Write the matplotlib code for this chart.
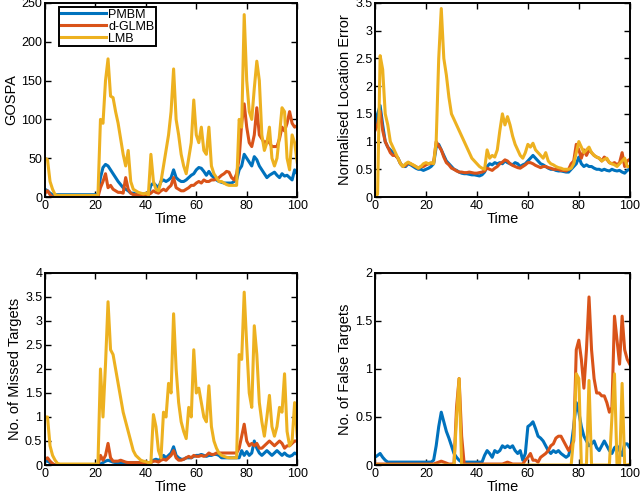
import matplotlib
matplotlib.use("Agg")
import matplotlib.pyplot as plt
from matplotlib.ticker import FormatStrFormatter

# time axis
time = list(range(101))

# GOSPA
gospa_pmbm = [10, 8, 5, 3, 3, 3, 3, 3, 3, 3,
              3, 3, 3, 3, 3, 3, 3, 3, 3, 3,
              3, 3, 25, 38, 42, 40, 35, 30, 25, 20,
              16, 12, 10, 8, 5, 5, 4, 4, 4, 4,
              4, 4, 15, 18, 15, 12, 20, 22, 20, 22,
              25, 35, 25, 22, 20, 20, 22, 25, 28, 30,
              35, 38, 37, 33, 28, 33, 28, 25, 22, 20,
              19, 18, 18, 18, 18, 20, 22, 35, 40, 55,
              50, 45, 40, 52, 48, 40, 35, 30, 25, 28,
              30, 32, 28, 25, 30, 27, 28, 25, 22, 35,
              30]
gospa_dglmb = [5, 8, 3, 0, 0, 0, 0, 0, 0, 0,
               0, 0, 0, 0, 0, 0, 0, 0, 0, 0,
               0, 0, 12, 20, 30, 12, 15, 10, 8, 6,
               6, 5, 25, 10, 5, 3, 3, 3, 3, 3,
               3, 3, 5, 8, 6, 5, 8, 10, 8, 12,
               15, 25, 12, 10, 8, 8, 10, 12, 15, 15,
               18, 20, 18, 22, 20, 20, 22, 22, 23, 25,
               28, 30, 33, 32, 25, 22, 30, 50, 95, 120,
               90, 70, 65, 80, 115, 80, 75, 70, 72, 70,
               65, 65, 65, 75, 90, 85, 95, 110, 95, 90,
               92]
gospa_lmb = [50, 48, 20, 10, 3, 2, 2, 2, 2, 2,
             2, 2, 2, 2, 2, 2, 2, 2, 2, 2,
             2, 2, 100, 95, 150, 178, 130, 128, 110, 95,
             75, 55, 40, 60, 20, 10, 8, 6, 5, 4,
             5, 3, 55, 20, 10, 8, 20, 40, 60, 80,
             110, 165, 100, 80, 55, 40, 30, 50, 70, 125,
             80, 70, 90, 60, 55, 90, 40, 30, 25, 20,
             20, 18, 16, 15, 15, 15, 15, 100, 90, 235,
             150, 110, 100, 140, 175, 150, 80, 60, 70, 90,
             50, 40, 50, 80, 115, 110, 50, 35, 80, 70,
             45]

# normalised location error
loc_pmbm = [1.3, 1.5, 1.65, 1.3, 1.0, 0.9, 0.85, 0.8, 0.75, 0.7,
            0.6, 0.55, 0.55, 0.6, 0.58, 0.55, 0.52, 0.5, 0.5, 0.48,
            0.5, 0.52, 0.55, 0.6, 0.9, 0.95, 0.85, 0.75, 0.65, 0.6,
            0.55, 0.5, 0.48, 0.45, 0.43, 0.42, 0.42, 0.41, 0.4, 0.4,
            0.39, 0.38, 0.4, 0.45, 0.55, 0.6, 0.58, 0.62, 0.6, 0.62,
            0.6, 0.65, 0.62, 0.6, 0.58, 0.62, 0.6, 0.55, 0.58, 0.6,
            0.65, 0.7, 0.75, 0.7, 0.65, 0.6, 0.58, 0.55, 0.52, 0.5,
            0.5, 0.48, 0.47, 0.47, 0.46, 0.45, 0.45, 0.5, 0.55, 0.6,
            0.72, 0.6, 0.55, 0.58, 0.55, 0.55, 0.52, 0.5, 0.5, 0.48,
            0.5, 0.48, 0.47, 0.5, 0.48, 0.47, 0.48, 0.45, 0.43, 0.48,
            0.5]
loc_dglmb = [1.2, 1.3, 1.55, 1.2, 1.0, 0.9, 0.8, 0.75, 0.75, 0.7,
             0.6, 0.55, 0.57, 0.62, 0.6, 0.57, 0.55, 0.52, 0.55, 0.55,
             0.58, 0.6, 0.6, 0.62, 1.0, 0.92, 0.85, 0.72, 0.62, 0.58,
             0.52, 0.5, 0.47, 0.45, 0.45, 0.44, 0.44, 0.45, 0.44, 0.43,
             0.43, 0.44, 0.45, 0.47, 0.52, 0.5, 0.48, 0.52, 0.55, 0.6,
             0.63, 0.67, 0.65, 0.6, 0.57, 0.55, 0.53, 0.52, 0.55, 0.58,
             0.62, 0.62, 0.6, 0.57, 0.55, 0.53, 0.55, 0.55, 0.53, 0.52,
             0.5, 0.5, 0.5, 0.48, 0.48, 0.47, 0.5, 0.6, 0.65, 0.95,
             0.85, 0.7, 0.85, 0.75, 0.85, 0.8, 0.75, 0.72, 0.7, 0.65,
             0.72, 0.68, 0.62, 0.6, 0.62, 0.58, 0.62, 0.8, 0.55, 0.65,
             0.68]
loc_lmb = [0.0, 0.05, 2.55, 2.3, 1.5, 1.3, 1.0, 0.9, 0.8, 0.7,
           0.6, 0.55, 0.6, 0.63, 0.6, 0.58, 0.55, 0.52, 0.55, 0.6,
           0.62, 0.6, 0.62, 0.6, 1.0, 2.5, 3.4, 2.5, 2.2, 1.8,
           1.5, 1.4, 1.3, 1.2, 1.1, 1.0, 0.9, 0.8, 0.7, 0.65,
           0.6, 0.55, 0.52, 0.5, 0.85, 0.7, 0.75, 0.72, 0.85, 1.2,
           1.5, 1.3, 1.45, 1.3, 1.1, 0.95, 0.85, 0.75, 0.7, 0.8,
           0.95, 0.9, 0.97, 0.85, 0.8, 0.75, 0.7, 0.8, 0.65, 0.6,
           0.58, 0.55, 0.53, 0.52, 0.5, 0.5, 0.5, 0.52, 0.6, 0.8,
           1.0, 0.9, 0.8, 0.85, 0.9, 0.8, 0.75, 0.72, 0.7, 0.65,
           0.68, 0.7, 0.62, 0.6, 0.58, 0.55, 0.6, 0.65, 0.7, 0.55,
           0.55]

# number of missed targets
missed_pmbm = [0.08, 0.08, 0.05, 0.02, 0, 0, 0, 0, 0, 0,
               0, 0, 0, 0, 0, 0, 0, 0, 0, 0,
               0, 0, 0.02, 0.05, 0.08, 0.1, 0.08, 0.06, 0.05, 0.05,
               0.05, 0.05, 0.05, 0.05, 0.05, 0.05, 0.05, 0.05, 0.05, 0.05,
               0.05, 0.05, 0.05, 0.1, 0.12, 0.1, 0.12, 0.2, 0.15, 0.2,
               0.25, 0.38, 0.2, 0.15, 0.12, 0.12, 0.15, 0.15, 0.15, 0.18,
               0.2, 0.2, 0.22, 0.2, 0.18, 0.2, 0.2, 0.22, 0.22, 0.2,
               0.15, 0.15, 0.15, 0.15, 0.15, 0.15, 0.15, 0.15, 0.3, 0.2,
               0.28, 0.2, 0.25, 0.5, 0.35, 0.25, 0.2, 0.25, 0.3, 0.25,
               0.2, 0.25, 0.3, 0.25, 0.2, 0.25, 0.2, 0.18, 0.2, 0.25,
               0.22]
missed_dglmb = [0.12, 0.15, 0.08, 0.03, 0, 0, 0, 0, 0, 0,
                0, 0, 0, 0, 0, 0, 0, 0, 0, 0,
                0, 0, 0.2, 0.1, 0.2, 0.45, 0.15, 0.08, 0.08, 0.08,
                0.1, 0.08, 0.06, 0.05, 0.05, 0.05, 0.05, 0.05, 0.05, 0.05,
                0.05, 0.05, 0.05, 0.08, 0.08, 0.06, 0.1, 0.12, 0.1, 0.15,
                0.2, 0.3, 0.15, 0.1, 0.1, 0.12, 0.15, 0.18, 0.15, 0.2,
                0.18, 0.18, 0.2, 0.18, 0.2, 0.25, 0.22, 0.22, 0.25, 0.25,
                0.25, 0.25, 0.25, 0.25, 0.25, 0.25, 0.25, 0.35, 0.6, 0.85,
                0.5, 0.4, 0.45, 0.4, 0.45, 0.35, 0.35, 0.4, 0.45, 0.5,
                0.45, 0.4, 0.45, 0.5, 0.45, 0.35, 0.4, 0.4, 0.45, 0.5,
                0.5]
missed_lmb = [1.0, 1.0, 0.4, 0.2, 0.1, 0.03, 0.02, 0.02, 0.02, 0.02,
              0.02, 0.02, 0.02, 0.02, 0.02, 0.02, 0.02, 0.02, 0.02, 0.02,
              0.02, 0.02, 2.0, 1.0, 2.1, 3.4, 2.4, 2.3, 2.0, 1.7,
              1.4, 1.1, 0.9, 0.7, 0.5, 0.3, 0.2, 0.15, 0.1, 0.08,
              0.07, 0.05, 0.05, 1.05, 0.8, 0.3, 0.15, 1.1, 1.0, 1.7,
              1.5, 3.15, 2.0, 1.3, 0.9, 0.7, 0.55, 1.2, 1.0, 2.4,
              1.5, 1.6, 1.3, 1.0, 0.9, 1.65, 0.8, 0.5, 0.35, 0.25,
              0.2, 0.18, 0.16, 0.15, 0.15, 0.15, 0.15, 2.3, 2.2, 3.6,
              2.5, 1.5, 1.2, 2.9, 2.3, 1.3, 0.9, 0.6, 1.0, 1.45,
              0.8, 0.6, 0.8, 1.2, 1.1, 1.9, 0.7, 0.4, 0.5, 1.3,
              0.6]

# number of false targets
false_pmbm = [0.08, 0.1, 0.12, 0.08, 0.05, 0.03, 0.03, 0.03, 0.03, 0.03,
              0.03, 0.03, 0.03, 0.03, 0.03, 0.03, 0.03, 0.03, 0.03, 0.03,
              0.03, 0.03, 0.03, 0.05, 0.2, 0.4, 0.55, 0.45, 0.35, 0.28,
              0.2, 0.12, 0.08, 0.05, 0.03, 0.03, 0.03, 0.03, 0.03, 0.03,
              0.03, 0.03, 0.03, 0.1, 0.15, 0.12, 0.08, 0.15, 0.13, 0.15,
              0.2, 0.18, 0.2, 0.18, 0.2, 0.15, 0.12, 0.15, 0.05, 0.12,
              0.4, 0.42, 0.45, 0.38, 0.3, 0.28, 0.25, 0.2, 0.15, 0.12,
              0.15, 0.13, 0.15, 0.12, 0.1, 0.08, 0.1, 0.2, 0.4, 0.65,
              0.55, 0.4, 0.3, 0.25, 0.2, 0.22, 0.25, 0.18, 0.15, 0.2,
              0.25, 0.2, 0.15, 0.12, 0.18, 0.2, 0.15, 0.1, 0.22, 0.22,
              0.18]
false_dglmb = [0.01, 0.01, 0.01, 0.01, 0.01, 0.01, 0.01, 0.01, 0.01, 0.01,
               0.01, 0.01, 0.01, 0.01, 0.01, 0.01, 0.01, 0.01, 0.01, 0.01,
               0.01, 0.01, 0.01, 0.01, 0.02, 0.03, 0.04, 0.03, 0.02, 0.01,
               0.01, 0.01, 0.6, 0.9, 0.3, 0.01, 0.01, 0.01, 0.01, 0.01,
               0.01, 0.01, 0.01, 0.01, 0.01, 0.01, 0.01, 0.01, 0.01, 0.01,
               0.01, 0.02, 0.03, 0.02, 0.01, 0.01, 0.01, 0.01, 0.01, 0.05,
               0.08, 0.12, 0.05, 0.05, 0.03, 0.08, 0.1, 0.12, 0.15, 0.2,
               0.22, 0.28, 0.3, 0.3, 0.25, 0.2, 0.15, 0.2, 0.25, 1.2,
               1.3, 1.1, 0.8, 1.2, 1.75, 1.2, 0.9, 0.75, 0.75, 0.72,
               0.72, 0.65, 0.55, 0.6, 1.55, 1.3, 1.05, 1.55, 1.2, 1.1,
               1.05]
false_lmb = [0, 0, 0, 0, 0, 0, 0, 0, 0, 0,
             0, 0, 0, 0, 0, 0, 0, 0, 0, 0,
             0, 0, 0, 0, 0, 0, 0, 0, 0, 0,
             0, 0, 0.5, 0.9, 0, 0, 0, 0, 0, 0,
             0, 0, 0, 0, 0, 0, 0, 0, 0, 0,
             0, 0, 0, 0, 0, 0, 0, 0, 0, 0,
             0, 0, 0, 0, 0, 0, 0, 0, 0, 0,
             0, 0, 0, 0, 0, 0, 0, 0, 0.3, 0.95,
             0.9, 0, 0, 0, 0.88, 0, 0, 0, 0, 0,
             0, 0, 0, 0.5, 0.95, 0, 0, 0.85, 0, 0,
             0.01]

labels = ["PMBM", "d-GLMB", "LMB"]
colors = ["#0072BD", "#D95319", "#EDB120"]

panels = [
    ([gospa_pmbm, gospa_dglmb, gospa_lmb], "GOSPA", 250, 50),
    ([loc_pmbm, loc_dglmb, loc_lmb], "Normalised Location Error", 3.5, 0.5),
    ([missed_pmbm, missed_dglmb, missed_lmb], "No. of Missed Targets", 4, 0.5),
    ([false_pmbm, false_dglmb, false_lmb], "No. of False Targets", 2, 0.5),
]

plt.rcParams['font.family'] = ['Liberation Sans', 'DejaVu Sans']

fig = plt.figure(figsize=(6.4, 4.95), dpi=100)
rects = [
    [0.0703, 0.602, 0.394, 0.392],
    [0.586, 0.602, 0.398, 0.392],
    [0.0703, 0.0606, 0.394, 0.388],
    [0.586, 0.0606, 0.398, 0.388],
]

for rect, (series, ylab, ymax, ystep) in zip(rects, panels):
    ax = fig.add_axes(rect)
    for s, lab, c in zip(series, labels, colors):
        ax.plot(time, s, color=c, lw=2.2, label=lab)
    ax.set_xlim(0, 100)
    ax.set_ylim(0, ymax)
    ax.set_xticks(range(0, 101, 20))
    n = int(round(ymax / ystep))
    ax.set_yticks([ystep * i for i in range(n + 1)])
    ax.yaxis.set_major_formatter(FormatStrFormatter('%g'))
    ax.tick_params(direction='in', top=True, right=True, length=4,
                   width=1, labelsize=9, pad=2)
    for sp in ax.spines.values():
        sp.set_linewidth(1.4)
    ax.set_xlabel("Time", fontsize=10.5, labelpad=0)
    ax.set_ylabel(ylab, fontsize=10.5, labelpad=2)
    if ylab == "GOSPA":
        leg = ax.legend(loc='upper left', bbox_to_anchor=(0.04, 1.0),
                        fontsize=9, handlelength=3.6, borderpad=0.15,
                        labelspacing=0.0, handletextpad=0.2,
                        fancybox=False, framealpha=1, borderaxespad=0.3)
        leg.get_frame().set_edgecolor('black')
        leg.get_frame().set_linewidth(1.4)

fig.savefig("out.png", dpi=100)
